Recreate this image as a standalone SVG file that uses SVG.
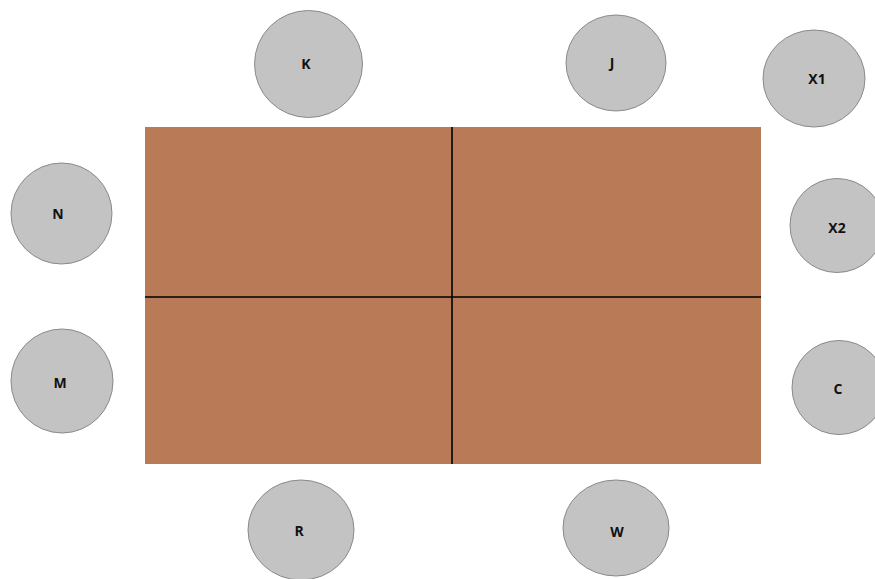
<svg xmlns="http://www.w3.org/2000/svg" width="875" height="579" viewBox="0 0 875 579">
<style>
.seat{fill:#c3c3c3;stroke:#8a8a8a;stroke-width:1}
.lbl{font-family:"Open Sans","Liberation Sans",sans-serif;font-weight:bold;font-size:14px;fill:#111;text-anchor:middle;dominant-baseline:central}
.div{stroke:#000;stroke-width:1.6}
</style>
<rect width="875" height="579" fill="#fff"/>
<g id="table">
<rect x="145" y="127" width="616" height="337" fill="#b97a57"/>
</g>
<g id="connectors">
<line class="div" x1="452" y1="127" x2="452" y2="464"/>
<line class="div" x1="145" y1="297" x2="761" y2="297"/>
</g>
<g id="K"><ellipse class="seat" cx="308.5" cy="64" rx="54" ry="53.5"/><text class="lbl" x="306" y="63">K</text></g>
<g id="J"><ellipse class="seat" cx="616" cy="63" rx="50" ry="48"/><text class="lbl" x="612" y="62">J</text></g>
<g id="X1"><ellipse class="seat" cx="814" cy="78.5" rx="51" ry="48.5"/><text class="lbl" x="817" y="78">X1</text></g>
<g id="X2"><ellipse class="seat" cx="837" cy="225.5" rx="47" ry="47"/><text class="lbl" x="837" y="227">X2</text></g>
<g id="C"><ellipse class="seat" cx="839" cy="387.5" rx="47" ry="47"/><text class="lbl" x="838" y="388">C</text></g>
<g id="N"><ellipse class="seat" cx="61.5" cy="213.5" rx="50.5" ry="50.5"/><text class="lbl" x="58" y="213">N</text></g>
<g id="M"><ellipse class="seat" cx="62" cy="381" rx="51" ry="52"/><text class="lbl" x="60" y="382">M</text></g>
<g id="R"><ellipse class="seat" cx="301" cy="530" rx="53" ry="50"/><text class="lbl" x="299" y="530">R</text></g>
<g id="W"><ellipse class="seat" cx="616" cy="528" rx="53" ry="48"/><text class="lbl" x="617" y="531">W</text></g>
</svg>
